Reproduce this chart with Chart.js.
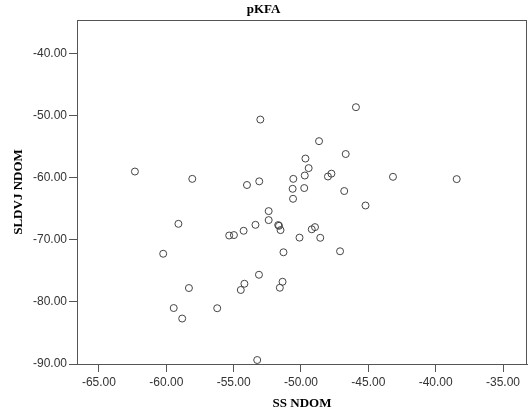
<!DOCTYPE html>
<html>
<head>
<meta charset="utf-8">
<script src="https://cdn.jsdelivr.net/npm/chart.js@4"></script>
<style>
  html, body { margin: 0; padding: 0; background: #fff; }
  #wrap { width: 528px; height: 416px; }
</style>
</head>
<body>
<div id="wrap"><canvas id="scatter" width="528" height="416"></canvas></div>
<script>
// values
const ssNdom = [
  -62.33, -58.07, -59.10, -60.23, -55.33, -54.98, -54.26, -53.38, -52.40, -52.40,
  -51.69, -51.63, -51.52, -50.11, -51.30, -53.12, -54.20, -54.47, -51.37, -51.57,
  -58.32, -59.45, -58.82, -56.22, -53.25, -53.02, -45.92, -48.66, -46.68, -49.67,
  -49.43, -49.72, -50.57, -53.10, -54.01, -48.00, -47.74, -43.17, -38.44, -50.62,
  -49.76, -46.79, -50.59, -45.21, -49.20, -48.96, -48.57, -47.10
];
const sldvjNdom = [
  -59.01, -60.19, -67.43, -72.25, -69.31, -69.24, -68.55, -67.59, -65.38, -66.83,
  -67.63, -67.75, -68.44, -69.65, -72.01, -75.63, -77.08, -78.08, -76.76, -77.72,
  -77.77, -80.99, -82.68, -81.02, -89.36, -50.64, -48.65, -54.12, -56.19, -56.92,
  -58.46, -59.65, -60.19, -60.59, -61.18, -59.81, -59.35, -59.86, -60.23, -61.79,
  -61.67, -62.15, -63.40, -64.48, -68.31, -67.96, -69.68, -71.85
];
const xTicks = [-65, -60, -55, -50, -45, -40, -35];
const yTicks = [-90, -80, -70, -60, -50, -40];

const points = ssNdom.map((x, i) => ({ x: x, y: sldvjNdom[i] }));

// frame around the plot area
const frame = {
  id: 'frame',
  afterDatasetsDraw(chart) {
    const a = chart.chartArea;
    const ctx = chart.ctx;
    ctx.save();
    ctx.strokeStyle = '#555';
    ctx.lineWidth = 1;
    ctx.strokeRect(Math.round(a.left) + 0.5, Math.round(a.top) + 0.5,
      Math.round(a.right - a.left) - 1, Math.round(a.bottom - a.top));
    ctx.restore();
  }
};

const ctx = document.getElementById('scatter').getContext('2d');
new Chart(ctx, {
  type: 'scatter',
  data: {
    datasets: [{
      data: points,
      pointStyle: 'circle',
      pointRadius: 3.5,
      pointHoverRadius: 3.5,
      borderColor: '#444',
      borderWidth: 1,
      backgroundColor: 'rgba(0,0,0,0)'
    }]
  },
  options: {
    responsive: false,
    animation: false,
    layout: { autoPadding: false, padding: { left: 0, right: 1, top: 0, bottom: 4 } },
    plugins: {
      legend: { display: false },
      tooltip: { enabled: false },
      title: {
        display: true,
        text: 'pKFA',
        color: '#000',
        font: { family: 'Liberation Serif', size: 13, weight: 'bold', lineHeight: '16px' },
        padding: { top: 2, bottom: 2 }
      }
    },
    scales: {
      x: {
        type: 'linear',
        min: -66.63,
        max: -33.22,
        afterBuildTicks: axis => { axis.ticks = xTicks.map(v => ({ value: v })); },
        afterFit: axis => { axis.height = 48; },
        grid: { display: true, drawOnChartArea: false, drawTicks: true, tickLength: 8, color: '#555' },
        border: { display: true, color: '#555' },
        ticks: {
          color: '#333',
          padding: 3,
          maxRotation: 0,
          font: { family: 'Liberation Sans', size: 12 },
          callback: v => v.toFixed(2)
        },
        title: {
          display: true,
          text: 'SS NDOM',
          color: '#000',
          font: { family: 'Liberation Serif', size: 13, weight: 'bold', lineHeight: '16px' },
          padding: { top: 0, bottom: 0 }
        }
      },
      y: {
        type: 'linear',
        min: -90,
        max: -34.61,
        afterBuildTicks: axis => { axis.ticks = yTicks.map(v => ({ value: v })); },
        afterFit: axis => { axis.width = 77; },
        grid: { display: true, drawOnChartArea: false, drawTicks: true, tickLength: 8, color: '#555' },
        border: { display: true, color: '#555' },
        ticks: {
          color: '#333',
          padding: 2,
          font: { family: 'Liberation Sans', size: 12 },
          callback: v => v.toFixed(2)
        },
        title: {
          display: true,
          text: 'SLDVJ NDOM',
          color: '#000',
          font: { family: 'Liberation Serif', size: 13, weight: 'bold', lineHeight: '16px' },
          padding: { top: 11, bottom: 0 }
        }
      }
    }
  },
  plugins: [frame]
});
</script>
</body>
</html>
